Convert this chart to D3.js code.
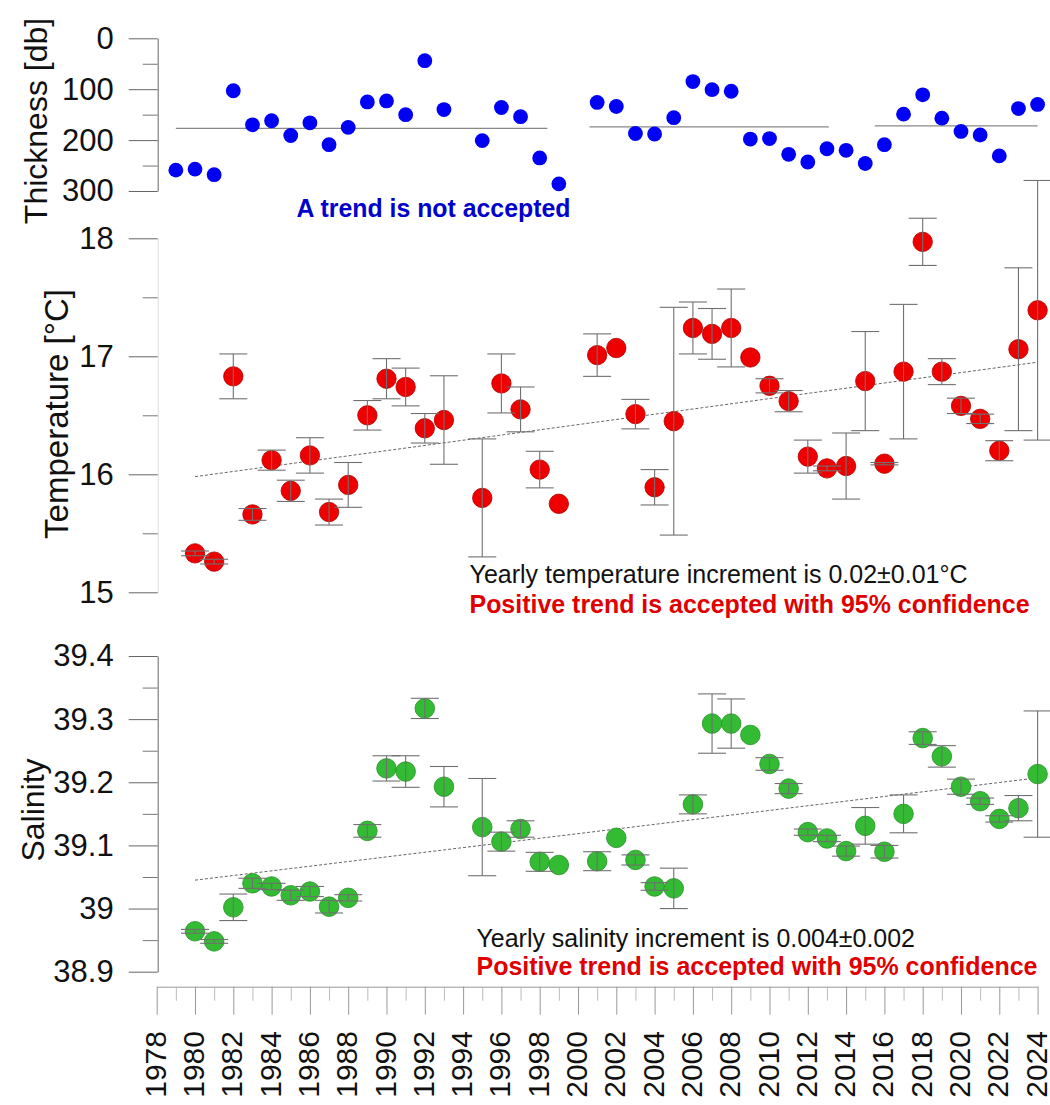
<!DOCTYPE html>
<html lang="en">
<head>
<meta charset="UTF-8">
<title>Thickness, temperature and salinity</title>
<script src="https://d3js.org/d3.v7.min.js"></script>
<style>
  body { margin: 0; background: #fff; }
  svg { display: block; font-family: 'Liberation Sans', Arial, sans-serif; }
  .axis text { fill: #111; }
</style>
</head>
<body>
<svg width="1050" height="1105"></svg>
<script>
// Data
const years = [1980, 1981, 1982, 1983, 1984, 1985, 1986, 1987, 1988, 1989, 1990, 1991, 1992, 1993,
  1995, 1996, 1997, 1998, 1999,
  2001, 2002, 2003, 2004, 2005, 2006, 2007, 2008, 2009, 2010, 2011, 2012, 2013, 2014, 2015, 2016,
  2017, 2018, 2019, 2020, 2021, 2022, 2023, 2024];
const thickYears = [1979, 1980, 1981, 1982, 1983, 1984, 1985, 1986, 1987, 1988, 1989, 1990, 1991, 1992, 1993,
  1995, 1996, 1997, 1998, 1999,
  2001, 2002, 2003, 2004, 2005, 2006, 2007, 2008, 2009, 2010, 2011, 2012, 2013, 2014, 2015, 2016,
  2017, 2018, 2019, 2020, 2021, 2022, 2023, 2024];

const thickness = [259, 257, 268, 103, 170, 162, 191, 166, 209, 175, 125, 123, 150, 44, 140,
  201, 136, 154, 235, 286,
  126, 134, 187, 188, 156, 85, 101, 104, 198, 197, 228, 243, 217, 220, 246, 209, 149, 111, 157, 183, 190, 231, 138, 130];
const meanStart = [1979, 2000.6, 2015.5];
const meanEnd = [1998.4, 2013.1, 2024];
const meanValue = [177, 174, 172];

const temperature = [15.33, 15.26, 16.83, 15.66, 16.12, 15.86, 16.16, 15.68, 15.91, 16.50, 16.81, 16.74, 16.39, 16.46,
  15.80, 16.77, 16.55, 16.04, 15.75,
  17.01, 17.07, 16.51, 15.89, 16.45, 17.24, 17.19, 17.24, 16.99, 16.75, 16.62, 16.15, 16.05, 16.07, 16.79, 16.09,
  16.87, 17.97, 16.87, 16.58, 16.47, 16.20, 17.06, 17.39];
const tempErr = [0.02, 0.02, 0.19, 0.05, 0.085, 0.09, 0.15, 0.11, 0.19, 0.125, 0.17, 0.16, 0.125, 0.375,
  0.5, 0.25, 0.19, 0.155, 0,
  0.18, 0, 0.125, 0.15, 0.965, 0.22, 0.215, 0.33, 0, 0.06, 0.09, 0.14, 0.02, 0.28, 0.42, 0.01,
  0.57, 0.2, 0.11, 0.065, 0.04, 0.085, 0.69, 1.1];

const salinity = [38.964, 38.948, 39.002, 39.040, 39.035, 39.021, 39.027, 39.003, 39.017, 39.123, 39.222, 39.217, 39.317, 39.193,
  39.129, 39.106, 39.126, 39.074, 39.069,
  39.075, 39.112, 39.077, 39.035, 39.032, 39.165, 39.293, 39.293, 39.275, 39.229, 39.190, 39.121, 39.111, 39.091, 39.131, 39.090,
  39.150, 39.270, 39.241, 39.193, 39.170, 39.142, 39.159, 39.213];
const salErr = [0.003, 0.003, 0.021, 0.008, 0.005, 0.008, 0.008, 0.01, 0.005, 0.01, 0.02, 0.025, 0.016, 0.032,
  0.077, 0.015, 0.013, 0.015, 0,
  0.015, 0, 0.008, 0.006, 0.032, 0.015, 0.047, 0.039, 0, 0.01, 0.008, 0.005, 0.005, 0.008, 0.029, 0.01,
  0.03, 0.01, 0.017, 0.012, 0.005, 0.005, 0.02, 0.1];

const trendYears = [1980, 2024];
const tempTrend = [15.98, 16.95];
const salTrend = [39.045, 39.207];

const thickTicks = [0, 100, 200, 300];
const thickMinor = [50, 150, 250];
const tempTicks = [15, 16, 17, 18];
const tempMinor = [15.5, 16.5, 17.5];
const salTicks = [38.9, 39, 39.1, 39.2, 39.3, 39.4];
const salTickLabels = ["38.9", "39", "39.1", "39.2", "39.3", "39.4"];
const salMinor = [38.95, 39.05, 39.15, 39.25, 39.35];
const yearTicks = [1978, 1980, 1982, 1984, 1986, 1988, 1990, 1992, 1994, 1996, 1998, 2000,
  2002, 2004, 2006, 2008, 2010, 2012, 2014, 2016, 2018, 2020, 2022, 2024];
const yearMinor = [1979, 1981, 1983, 1985, 1987, 1989, 1991, 1993, 1995, 1997, 1999, 2001,
  2003, 2005, 2007, 2009, 2011, 2013, 2015, 2017, 2019, 2021, 2023];

const svg = d3.select("svg");
const axisX = 157.7;

const x = d3.scaleLinear().domain([1978, 2024]).range([156.7, 1037.6]);
const yThick = d3.scaleLinear().domain([0, 300]).range([38.3, 191]);
const yTemp = d3.scaleLinear().domain([15, 18]).range([592.3, 238.3]);
const ySal = d3.scaleLinear().domain([38.9, 39.4]).range([971.7, 656]);

function leftAxis(scale, ticks, minor, labels, lineColor) {
  const g = svg.append("g").attr("class", "axis").attr("transform", `translate(${axisX},0)`);
  g.call(d3.axisLeft(scale).tickValues(ticks).tickSize(29).tickSizeOuter(0).tickPadding(15)
      .tickFormat((d, i) => labels ? labels[i] : d))
    .call(a => a.selectAll("text").attr("font-size", 31).attr("font-family", "'Liberation Sans', Arial, sans-serif"))
    .call(a => a.selectAll(".tick line").attr("stroke", "#666"))
    .call(a => a.select(".domain").attr("stroke", lineColor));
  const m = svg.append("g").attr("transform", `translate(${axisX},0)`);
  m.call(d3.axisLeft(scale).tickValues(minor).tickSize(15).tickSizeOuter(0).tickFormat(""))
    .call(a => a.select(".domain").remove())
    .call(a => a.selectAll(".tick line").attr("stroke", "#777"));
}

leftAxis(yThick, thickTicks, thickMinor, null, "#666");
leftAxis(yTemp, tempTicks, tempMinor, null, "#ddd");
leftAxis(ySal, salTicks, salMinor, salTickLabels, "#666");

// x axis
const xg = svg.append("g").attr("class", "axis").attr("transform", "translate(0,986.7)");
xg.call(d3.axisBottom(x).tickValues(yearTicks).tickSize(28).tickSizeOuter(0).tickFormat(""))
  .call(a => a.select(".domain").attr("stroke", "#999"))
  .call(a => a.selectAll(".tick line").attr("stroke", "#999"));
svg.append("g").attr("transform", "translate(0,986.7)")
  .call(d3.axisBottom(x).tickValues(yearMinor).tickSize(14).tickSizeOuter(0).tickFormat(""))
  .call(a => a.select(".domain").remove())
  .call(a => a.selectAll(".tick line").attr("stroke", "#bbb"));
svg.append("g").selectAll("text").data(yearTicks).join("text")
  .attr("transform", d => `translate(${x(d)},1031) rotate(-90)`)
  .attr("text-anchor", "end")
  .attr("dy", "0.3em")
  .attr("font-size", 30)
  .attr("fill", "#111")
  .text(d => d);

// axis titles
function title(txt, cx, cy, size) {
  svg.append("text")
    .attr("transform", `translate(${cx},${cy}) rotate(-90)`)
    .attr("text-anchor", "middle")
    .attr("dy", "0.35em")
    .attr("font-size", size)
    .attr("fill", "#111")
    .text(txt);
}
title("Thickness [db]", 36, 121, 32);
title("Temperature [°C]", 56, 414, 33);
title("Salinity", 33, 810, 32);

// thickness panel
svg.append("g").selectAll("line").data(meanValue).join("line")
  .attr("x1", (d, i) => x(meanStart[i]))
  .attr("x2", (d, i) => x(meanEnd[i]))
  .attr("y1", d => yThick(d))
  .attr("y2", d => yThick(d))
  .attr("stroke", "#888")
  .attr("stroke-width", 1.2);
svg.append("g").selectAll("circle").data(thickness).join("circle")
  .attr("cx", (d, i) => x(thickYears[i]))
  .attr("cy", d => yThick(d))
  .attr("r", 7.4)
  .attr("fill", "#0000f5");

function panel(vals, errs, trend, y, fill, edge, r) {
  svg.append("line")
    .attr("x1", x(trendYears[0])).attr("x2", x(trendYears[1]))
    .attr("y1", y(trend[0])).attr("y2", y(trend[1]))
    .attr("stroke", "#555").attr("stroke-width", 0.9)
    .attr("stroke-dasharray", "3,2");
  svg.append("g").selectAll("circle").data(vals).join("circle")
    .attr("cx", (d, i) => x(years[i]))
    .attr("cy", d => y(d))
    .attr("r", r)
    .attr("fill", fill)
    .attr("stroke", edge)
    .attr("stroke-width", 0.8);
  const eb = svg.append("g").attr("stroke", "#707070").attr("stroke-width", 1.1);
  vals.forEach((v, i) => {
    const e = errs[i];
    if (!e) return;
    const cx = x(years[i]);
    eb.append("line").attr("x1", cx).attr("x2", cx).attr("y1", y(v - e)).attr("y2", y(v + e));
    eb.append("line").attr("x1", cx - 14).attr("x2", cx + 14).attr("y1", y(v - e)).attr("y2", y(v - e));
    eb.append("line").attr("x1", cx - 14).attr("x2", cx + 14).attr("y1", y(v + e)).attr("y2", y(v + e));
  });
}
panel(temperature, tempErr, tempTrend, yTemp, "#ee0000", "#b00000", 9.7);
panel(salinity, salErr, salTrend, ySal, "#33bb33", "#2a8f2a", 9.8);

// annotations
function note(txt, x0, base, len, color, bold) {
  svg.append("text")
    .attr("x", x0).attr("y", base)
    .attr("font-size", 25)
    .attr("font-weight", bold ? "bold" : "normal")
    .attr("fill", color)
    .attr("textLength", len)
    .attr("lengthAdjust", "spacingAndGlyphs")
    .text(txt);
}
note("A trend is not accepted", 296.5, 217, 274, "#0000cc", true);
note("Yearly temperature increment is 0.02±0.01°C", 469.5, 583, 498, "#111", false);
note("Positive trend is accepted with 95% confidence", 469.5, 613, 560, "#e00000", true);
note("Yearly salinity increment is 0.004±0.002", 476.5, 946.7, 438.5, "#111", false);
note("Positive trend is accepted with 95% confidence", 476.5, 975, 561, "#e00000", true);
</script>
</body>
</html>
